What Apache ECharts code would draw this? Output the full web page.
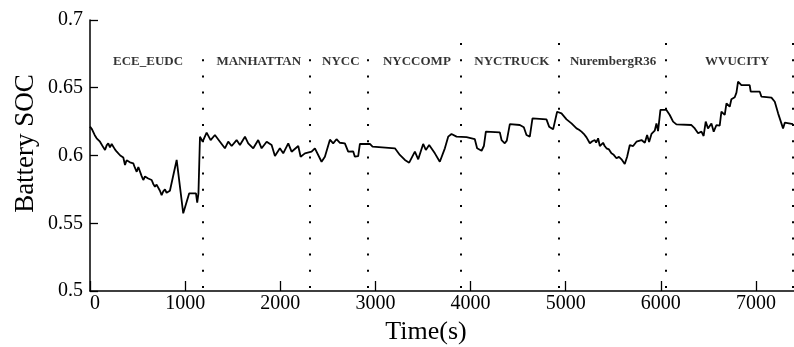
<!DOCTYPE html>
<html>
<head>
<meta charset="utf-8">
<script src="https://cdn.jsdelivr.net/npm/echarts@6/dist/echarts.min.js"></script>
<style>html,body{margin:0;padding:0;background:#fff}#c{width:794px;height:347px}</style>
</head>
<body>
<div id="c"></div>
<script>
// time (s)
const timeS = [0,20,35,50,70,88,105,125,140,158,175,192,210,228,245,262,281,300,318,333,350,368,385,402,420,438,455,472,491,508,525,542,560,578,596,612,630,648,665,683,700,718,735,753,770,788,805,823,840,858,911,980,1043,1114,1127,1140,1156,1184,1226,1268,1313,1366,1418,1453,1489,1541,1576,1629,1663,1716,1768,1804,1857,1909,1944,1996,2031,2084,2119,2189,2214,2259,2329,2364,2434,2469,2522,2556,2591,2627,2679,2714,2767,2784,2819,2837,2942,2970,3205,3257,3310,3355,3415,3450,3502,3530,3565,3625,3677,3730,3765,3800,3853,3958,4045,4069,4116,4140,4161,4308,4326,4360,4381,4413,4518,4560,4588,4623,4651,4798,4826,4868,4886,4910,4956,5009,5061,5114,5140,5166,5190,5219,5235,5254,5280,5306,5320,5341,5359,5393,5410,5429,5455,5481,5505,5534,5560,5587,5605,5621,5646,5674,5709,5744,5797,5832,5856,5877,5902,5936,5954,5971,5996,6059,6094,6129,6164,6322,6357,6392,6427,6450,6472,6496,6532,6556,6585,6619,6637,6672,6690,6724,6742,6777,6795,6812,6847,6934,6945,7040,7058,7163,7198,7233,7285,7303,7390];
// battery SOC
const soc = [0.6213,0.6195,0.6188,0.615,0.6127,0.6135,0.6102,0.611,0.606,0.6041,0.6075,0.609,0.606,0.6085,0.6077,0.6045,0.6028,0.604,0.6,0.6004,0.5985,0.593,0.5965,0.5972,0.595,0.596,0.5942,0.591,0.588,0.5915,0.5905,0.585,0.5819,0.5845,0.5856,0.583,0.584,0.5819,0.579,0.577,0.5785,0.5771,0.574,0.5708,0.5735,0.575,0.5725,0.5721,0.574,0.5733,0.5967,0.5573,0.5721,0.5721,0.5652,0.572,0.6139,0.6102,0.6169,0.6114,0.6151,0.6102,0.6053,0.6102,0.607,0.6114,0.6077,0.6139,0.609,0.6053,0.6114,0.6053,0.6102,0.6077,0.5996,0.6053,0.6016,0.609,0.6028,0.607,0.5991,0.6016,0.6028,0.6053,0.5954,0.5991,0.6117,0.609,0.612,0.6094,0.609,0.6028,0.603,0.5991,0.5996,0.6085,0.6085,0.6065,0.6053,0.6004,0.5967,0.5947,0.6028,0.5972,0.6085,0.6041,0.6077,0.6016,0.5954,0.6053,0.6139,0.6159,0.6139,0.6135,0.612,0.6053,0.6035,0.607,0.6176,0.6171,0.6114,0.609,0.611,0.6232,0.6225,0.6208,0.6151,0.6139,0.6274,0.6267,0.6213,0.6193,0.6195,0.6323,0.6311,0.6267,0.6237,0.62,0.619,0.6176,0.616,0.6134,0.612,0.609,0.6105,0.6114,0.6095,0.6127,0.607,0.6094,0.607,0.6053,0.6045,0.6016,0.6005,0.598,0.599,0.5972,0.596,0.5937,0.5991,0.6077,0.607,0.6102,0.6114,0.6094,0.6151,0.61,0.6159,0.6183,0.6237,0.618,0.6336,0.6336,0.6299,0.625,0.623,0.6225,0.62,0.6164,0.6176,0.6144,0.625,0.62,0.6237,0.6176,0.6225,0.622,0.6323,0.63,0.6385,0.636,0.6415,0.643,0.6464,0.6545,0.652,0.652,0.6471,0.6471,0.6434,0.6427,0.6397,0.6311,0.62,0.6242,0.6232];
// drive cycle boundaries (s)
const cycleEnds = [1187,2306,2921,3898,4923,6047,7390];
const cycleTopSOC = [0.672,0.672,0.672,0.683,0.683,0.683,0.683];
// cycle names and label centre times (s)
const cycleNames = ['ECE_EUDC','MANHATTAN','NYCC','NYCCOMP','NYCTRUCK','NurembergR36','WVUCITY'];
const cycleLabelT = [610,1774,2637,3436,4434,5499,6803];
// tick labels
const xTicks = [0,1000,2000,3000,4000,5000,6000,7000];
const yTicks = [0.5,0.55,0.6,0.65,0.7];

const serif = "'Liberation Serif','Times New Roman',serif";
const chart = echarts.init(document.getElementById('c'), null, {renderer:'canvas'});
const LABEL_ROW = 0.6694;
chart.setOption({
  animation:false,
  backgroundColor:'#fff',
  grid:{left:90, right:0, top:20, bottom:56},
  xAxis:{
    type:'value', min:0, max:7400,
    axisLine:{lineStyle:{color:'#000', width:1.5}},
    axisTick:{inside:true, length:10, customValues:xTicks, lineStyle:{color:'#000', width:1.3}},
    axisLabel:{customValues:xTicks, formatter:v=>String(v), color:'#000', fontFamily:serif, fontSize:20, margin:3, alignMinLabel:'left'},
    splitLine:{show:false}
  },
  yAxis:{
    type:'value', min:0.5, max:0.7, interval:0.05,
    axisLine:{show:true, lineStyle:{color:'#000', width:1.5}},
    axisTick:{show:true, inside:true, length:8, customValues:yTicks, lineStyle:{color:'#000', width:1.3}},
    axisLabel:{customValues:yTicks, color:'#000', fontFamily:serif, fontSize:20, margin:7},
    splitLine:{show:false}
  },
  graphic:[
    {type:'text', x:426, y:332, style:{text:'Time(s)', font:'26px '+serif, fill:'#000', textAlign:'center', textVerticalAlign:'middle'}},
    {type:'text', x:26, y:143.5, rotation:Math.PI/2, style:{text:'Battery SOC', font:'27px '+serif, fill:'#000', textAlign:'center', textVerticalAlign:'middle'}}
  ],
  series:[
    {
      type:'line',
      data:timeS.map((t,i)=>[t, soc[i]]),
      showSymbol:false,
      lineStyle:{color:'#000', width:1.8},
      markLine:{
        silent:true,
        symbol:['none','none'],
        label:{show:false},
        lineStyle:{color:'#000', width:2, type:[2,14.2]},
        data:cycleEnds.map((t,i)=>[{coord:[t,0.5022]},{coord:[t,cycleTopSOC[i]]}])
      }
    },
    {
      type:'scatter',
      symbolSize:0,
      silent:true,
      data:cycleNames.map((n,i)=>({name:n, value:[cycleLabelT[i], LABEL_ROW]})),
      label:{show:true, position:'inside', formatter:p=>p.name, color:'#000', fontFamily:serif, fontWeight:'bold', fontSize:13}
    }
  ]
});
</script>
</body>
</html>
